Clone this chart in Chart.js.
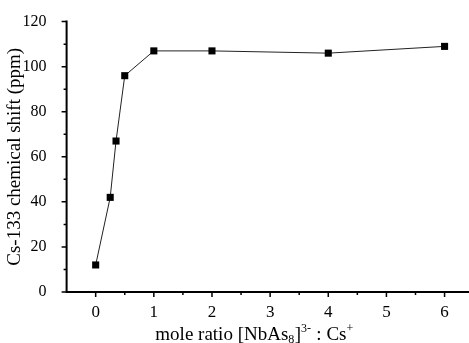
<!DOCTYPE html>
<html><head><meta charset="utf-8">
<script src="https://cdn.jsdelivr.net/npm/chart.js@4"></script>
<style>html,body{margin:0;padding:0;overflow:hidden;background:#fff;width:469px;height:343px}</style></head>
<body><canvas id="c" width="469" height="343"></canvas>
<script>
const ratios = [0, 0.25, 0.35, 0.5, 1, 2, 4, 6];
const shifts = [12, 42, 67, 96, 107, 107, 106, 109];
const xTicks = [0, 1, 2, 3, 4, 5, 6];
const yTicks = [0, 20, 40, 60, 80, 100, 120];
const xMinor = [-0.5, 0.5, 1.5, 2.5, 3.5, 4.5, 5.5];
const yMinor = [10, 30, 50, 70, 90, 110];
// x-axis title pieces: [text, kind] kind: n = normal, sub = subscript, sup = superscript
const xTitleParts = [['mole ratio [NbAs', 'n'], ['8', 'sub'], [']', 'n'], ['3-', 'sup'], [' : Cs', 'n'], ['+', 'sup']];
const yTitle = 'Cs-133 chemical shift (ppm)';

const FONT = "'Liberation Serif','Times New Roman',serif";

const axesPlugin = {
  id: 'axesPlugin',
  afterDraw(chart) {
    const ctx = chart.ctx, x = chart.scales.x, y = chart.scales.y;
    const a = chart.chartArea;
    ctx.save();
    ctx.strokeStyle = '#000';
    ctx.lineWidth = 2;
    ctx.beginPath();
    ctx.moveTo(a.left, a.top - 1);
    ctx.lineTo(a.left, a.bottom);
    ctx.lineTo(a.right, a.bottom);
    ctx.stroke();
    ctx.lineWidth = 1.5;
    ctx.beginPath();
    yTicks.forEach(v => { const p = y.getPixelForValue(v); ctx.moveTo(a.left, p); ctx.lineTo(a.left - 5, p); });
    yMinor.forEach(v => { const p = y.getPixelForValue(v); ctx.moveTo(a.left, p); ctx.lineTo(a.left - 3, p); });
    xTicks.forEach(v => { const p = x.getPixelForValue(v); ctx.moveTo(p, a.bottom); ctx.lineTo(p, a.bottom + 5); });
    xMinor.forEach(v => { const p = x.getPixelForValue(v); if (p > a.left + 1 && p < a.right) { ctx.moveTo(p, a.bottom); ctx.lineTo(p, a.bottom + 3); } });
    ctx.stroke();

    // x-axis title with real sub/superscripts
    ctx.fillStyle = '#000';
    ctx.textBaseline = 'alphabetic';
    ctx.textAlign = 'left';
    let cx = x.getPixelForValue(1) + 1.5;
    const base = 339.5;
    xTitleParts.forEach(([t, k]) => {
      let dy = 0;
      if (k === 'n') { ctx.font = '19px ' + FONT; }
      else { ctx.font = '12px ' + FONT; dy = (k === 'sub') ? 3 : -8; }
      ctx.fillText(t, cx, base + dy);
      cx += ctx.measureText(t).width + (k === 'n' ? 0 : 0.5);
    });
    ctx.restore();
  }
};

new Chart(document.getElementById('c'), {
  type: 'scatter',
  data: {
    datasets: [{
      data: ratios.map((r, i) => ({ x: r, y: shifts[i] })),
      showLine: true,
      borderColor: '#222',
      borderWidth: 1,
      pointStyle: 'rect',
      pointRadius: 5,
      pointBackgroundColor: '#000',
      pointBorderColor: '#000',
      pointBorderWidth: 0,
      clip: false
    }]
  },
  options: {
    responsive: false,
    animation: false,
    devicePixelRatio: 1,
    layout: { autoPadding: false, padding: { left: 0, right: 0, top: 17.5, bottom: 0 } },
    plugins: { legend: { display: false }, tooltip: { enabled: false } },
    scales: {
      x: {
        type: 'linear', min: -0.5, max: 6.42,
        grid: { display: false }, border: { display: false },
        afterBuildTicks: s => { s.ticks = xTicks.map(v => ({ value: v })); },
        afterFit: s => { s.height = 51; },
        ticks: { color: '#000', font: { family: FONT, size: 17 }, padding: 2, maxRotation: 0 },
        title: { display: false }
      },
      y: {
        type: 'linear', min: 0, max: 120,
        grid: { display: false }, border: { display: false },
        afterBuildTicks: s => { s.ticks = yTicks.map(v => ({ value: v })); },
        afterFit: s => { s.width = 66.6; },
        ticks: { color: '#000', font: { family: FONT, size: 16 }, padding: 12 },
        title: { display: true, text: yTitle, color: '#000', font: { family: FONT, size: 19 }, padding: { top: 4, bottom: 0 } }
      }
    }
  },
  plugins: [axesPlugin]
});
</script></body></html>
